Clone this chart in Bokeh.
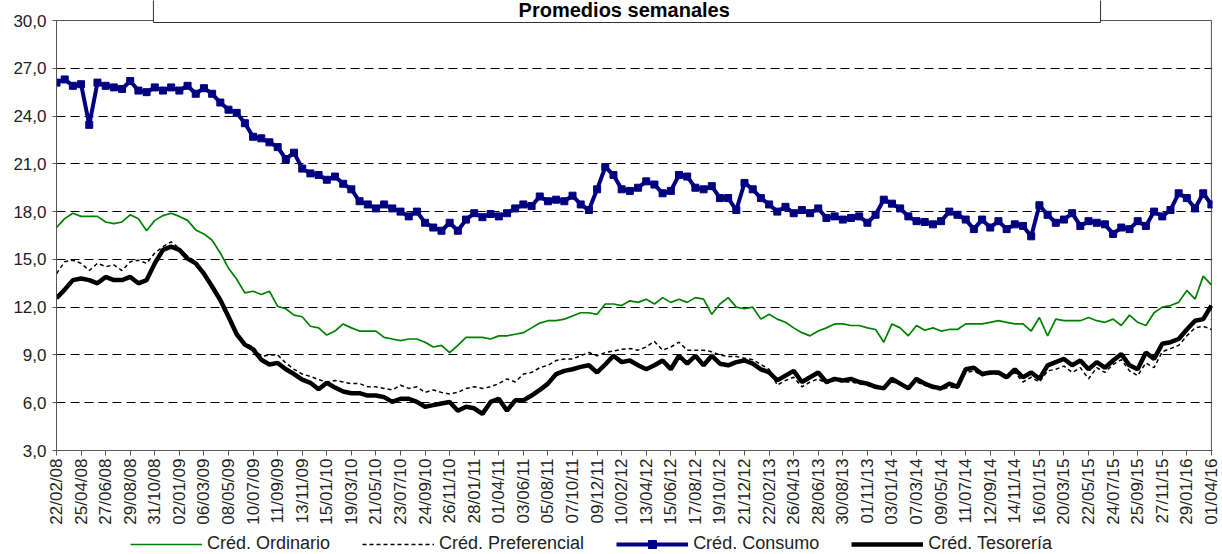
import math
from bokeh.plotting import figure
from bokeh.layouts import column
from bokeh.models import FixedTicker, Range1d, Legend, LegendItem, Label
from bokeh.embed import file_html
from bokeh.resources import INLINE

titulo = "Promedios  semanales"

etiquetas = ["22/02/08", "25/04/08", "27/06/08", "29/08/08", "31/10/08", "02/01/09",
             "06/03/09", "08/05/09", "10/07/09", "11/09/09", "13/11/09", "15/01/10",
             "19/03/10", "21/05/10", "23/07/10", "24/09/10", "26/11/10", "28/01/11",
             "01/04/11", "03/06/11", "05/08/11", "07/10/11", "09/12/11", "10/02/12",
             "13/04/12", "15/06/12", "17/08/12", "19/10/12", "21/12/12", "22/02/13",
             "26/04/13", "28/06/13", "30/08/13", "01/11/13", "03/01/14", "07/03/14",
             "09/05/14", "11/07/14", "12/09/14", "14/11/14", "16/01/15", "20/03/15",
             "22/05/15", "24/07/15", "25/09/15", "27/11/15", "29/01/16", "01/04/16"]
semanas_etiqueta = [9 * i for i in range(len(etiquetas))]

# semana (desde 22/02/08) de cada observación leída
semanas = list(range(0, 424, 3))

consumo = [26.1, 26.3, 25.9, 26.0, 23.45, 26.1, 25.9, 25.8, 25.7, 26.2, 25.6, 25.5,
           25.8, 25.6, 25.8, 25.6, 25.9, 25.4, 25.75, 25.4, 24.85, 24.4, 24.2, 23.55,
           22.7, 22.6, 22.35, 22.05, 21.3, 21.7, 20.7, 20.4, 20.3, 20.0, 20.2, 19.75,
           19.4, 18.65, 18.45, 18.2, 18.45, 18.2, 18.0, 17.7, 18.0, 17.3, 17.0, 16.8,
           17.3, 16.8, 17.5, 17.9, 17.65, 17.85, 17.7, 17.9, 18.2, 18.45, 18.35, 18.95,
           18.65, 18.75, 18.65, 19.0, 18.45, 18.1, 19.4, 20.8, 20.3, 19.4, 19.3, 19.5,
           19.9, 19.7, 19.15, 19.3, 20.3, 20.2, 19.5, 19.4, 19.6, 18.85, 18.85, 18.1,
           19.8, 19.4, 18.85, 18.45, 18.0, 18.3, 17.9, 18.1, 17.9, 18.2, 17.6, 17.7,
           17.5, 17.6, 17.7, 17.3, 17.8, 18.75, 18.5, 18.2, 17.7, 17.4, 17.35, 17.2,
           17.4, 18.0, 17.8, 17.5, 16.9, 17.5, 17.0, 17.4, 16.9, 17.2, 17.1, 16.45,
           18.4, 17.8, 17.3, 17.5, 17.9, 17.1, 17.4, 17.3, 17.2, 16.6, 17.0, 16.9,
           17.4, 17.1, 18.0, 17.7, 18.1, 19.15, 18.85, 18.2, 19.15, 18.45]

ordinario = [17.0, 17.56, 17.9, 17.7, 17.7, 17.7, 17.35, 17.25, 17.35, 17.8, 17.55, 16.8,
             17.45, 17.75, 17.9, 17.7, 17.45, 16.85, 16.6, 16.2, 15.4, 14.45, 13.75, 12.9,
             13.0, 12.8, 13.0, 12.05, 11.9, 11.5, 11.4, 10.8, 10.7, 10.25, 10.5, 10.95,
             10.7, 10.5, 10.5, 10.5, 10.1, 10.0, 9.9, 10.0, 10.0, 9.8, 9.5, 9.6,
             9.15, 9.6, 10.1, 10.1, 10.1, 10.0, 10.2, 10.2, 10.3, 10.4, 10.7, 11.0,
             11.15, 11.15, 11.25, 11.45, 11.65, 11.65, 11.55, 12.2, 12.2, 12.1, 12.4, 12.3,
             12.5, 12.2, 12.6, 12.3, 12.5, 12.3, 12.6, 12.5, 11.55, 12.2, 12.6, 12.0,
             11.9, 12.0, 11.25, 11.55, 11.25, 11.05, 10.7, 10.4, 10.2, 10.5, 10.7, 10.95,
             10.95, 10.85, 10.85, 10.7, 10.6, 9.8, 10.95, 10.7, 10.2, 10.85, 10.55, 10.7,
             10.5, 10.6, 10.6, 10.95, 10.95, 10.95, 11.05, 11.15, 11.05, 10.95, 10.95, 10.5,
             11.35, 10.2, 11.25, 11.15, 11.15, 11.15, 11.35, 11.15, 11.05, 11.25, 10.85, 11.5,
             11.05, 10.85, 11.65, 12.0, 12.1, 12.3, 13.05, 12.5, 13.95, 13.4]

tesoreria = [12.56, 13.1, 13.7, 13.8, 13.7, 13.5, 13.9, 13.7, 13.7, 13.9, 13.5, 13.7,
             14.75, 15.6, 15.8, 15.6, 15.05, 14.75, 14.1, 13.3, 12.45, 11.4, 10.3, 9.65,
             9.35, 8.7, 8.4, 8.5, 8.1, 7.8, 7.45, 7.25, 6.85, 7.25, 6.95, 6.7,
             6.6, 6.6, 6.45, 6.45, 6.35, 6.05, 6.25, 6.25, 6.05, 5.75, 5.85, 5.95,
             6.05, 5.5, 5.75, 5.65, 5.3, 6.05, 6.25, 5.5, 6.15, 6.15, 6.45, 6.8,
             7.2, 7.8, 8.0, 8.1, 8.25, 8.35, 7.9, 8.4, 8.95, 8.55, 8.65, 8.35,
             8.1, 8.35, 8.65, 8.1, 8.95, 8.45, 8.95, 8.35, 8.95, 8.45, 8.35, 8.55,
             8.65, 8.45, 8.1, 7.9, 7.4, 7.7, 8.0, 7.3, 7.6, 7.9, 7.3, 7.5,
             7.4, 7.5, 7.3, 7.2, 7.0, 6.9, 7.5, 7.2, 6.9, 7.5, 7.2, 7.0,
             6.9, 7.2, 7.0, 8.1, 8.2, 7.8, 7.9, 7.9, 7.6, 8.1, 7.6, 7.9,
             7.5, 8.35, 8.55, 8.75, 8.35, 8.65, 8.1, 8.55, 8.2, 8.65, 9.05, 8.35,
             8.1, 9.15, 8.75, 9.7, 9.8, 10.0, 10.6, 11.15, 11.25, 12.1]

preferencial = [14.1, 14.85, 14.95, 14.75, 14.3, 14.75, 14.55, 14.65, 14.3, 14.85, 14.95, 14.75,
                15.4, 15.8, 16.1, 15.7, 15.2, 14.85, 14.2, 13.4, 12.5, 11.5, 10.4, 9.75,
                9.5, 8.9, 9.0, 9.0, 8.5, 8.1, 7.8, 7.65, 7.45, 7.3, 7.4, 7.3,
                7.2, 7.2, 7.0, 7.0, 6.9, 6.8, 7.1, 6.9, 7.0, 6.65, 6.8, 6.65,
                6.55, 6.65, 6.9, 7.0, 6.9, 7.0, 7.2, 7.5, 7.3, 7.8, 7.9, 8.2,
                8.35, 8.65, 8.75, 8.75, 8.95, 9.15, 8.95, 9.15, 9.25, 9.35, 9.4, 9.3,
                9.5, 9.85, 9.3, 9.5, 9.8, 9.3, 9.3, 9.3, 9.2, 9.0, 8.9, 8.9,
                8.8, 8.7, 8.4, 8.1, 7.1, 7.4, 7.6, 7.0, 7.3, 7.5, 7.2, 7.4,
                7.3, 7.3, 7.2, 7.1, 6.9, 6.9, 7.3, 7.2, 7.0, 7.3, 7.1, 6.9,
                6.8, 7.0, 6.9, 7.9, 8.0, 7.7, 7.8, 7.8, 7.5, 7.9, 7.3, 7.6,
                7.3, 8.0, 8.1, 8.3, 7.9, 8.2, 7.5, 8.2, 7.9, 8.4, 8.7, 8.0,
                7.7, 8.5, 8.2, 9.2, 9.4, 9.6, 10.2, 10.7, 10.8, 10.6]

for serie in (consumo, ordinario, tesoreria, preferencial):
    assert len(serie) == len(semanas), len(serie)

series = [("Créd. Ordinario", ordinario), ("Créd. Preferencial", preferencial),
          ("Créd. Consumo", consumo), ("Créd. Tesorería", tesoreria)]

y_ticks = [3, 6, 9, 12, 15, 18, 21, 24, 27, 30]
grid_ticks = y_ticks[1:-1]
y_min, y_max = y_ticks[0], y_ticks[-1]
x_fin = semanas[-1]

FONT = "Liberation Sans"

p = figure(width=1222, height=530, output_backend="svg", toolbar_location=None,
           x_range=Range1d(0, x_fin + 0.4), y_range=Range1d(y_min, 31.256),
           min_border_left=56, min_border_right=10, min_border_top=0, min_border_bottom=80)
p.outline_line_color = None
p.background_fill_color = "white"
p.border_fill_color = "white"

# grid
p.xgrid.visible = False
p.ygrid.ticker = FixedTicker(ticks=grid_ticks)
p.ygrid.grid_line_color = "#000000"
p.ygrid.grid_line_dash = "9 5"
p.ygrid.grid_line_width = 1

# y axis
ax = p.yaxis[0]
ax.ticker = FixedTicker(ticks=y_ticks)
ax.bounds = (y_min, y_max)
ax.major_label_overrides = {t: f"{t:.1f}".replace(".", ",") for t in y_ticks}
ax.major_label_text_font = FONT
ax.major_label_text_font_size = "17px"
ax.major_label_text_color = "#222222"
ax.major_tick_out = 4
ax.major_tick_in = 0
ax.minor_tick_out = 0
ax.minor_tick_in = 0
ax.axis_line_color = "#555555"
ax.major_tick_line_color = "#555555"
ax.major_label_standoff = 6

# x axis
bx = p.xaxis[0]
bx.ticker = FixedTicker(ticks=semanas_etiqueta)
bx.major_label_overrides = dict(zip(semanas_etiqueta, etiquetas))
bx.major_label_orientation = math.pi / 2
bx.major_label_text_font = FONT
bx.major_label_text_font_size = "17px"
bx.major_label_text_color = "#222222"
bx.major_tick_out = 5
bx.major_tick_in = 0
bx.minor_tick_out = 0
bx.minor_tick_in = 0
bx.major_label_standoff = 3
bx.axis_line_color = "#555555"
bx.major_tick_line_color = "#555555"

# frame top / right borders
p.segment(x0=[0], y0=[y_max], x1=[x_fin], y1=[y_max], line_color="#555555", line_width=1)
p.segment(x0=[x_fin], y0=[y_min], x1=[x_fin], y1=[y_max], line_color="#555555", line_width=1)

# series
estilos = {
    "Créd. Ordinario": dict(line_color="#008000", line_width=1.7),
    "Créd. Preferencial": dict(line_color="#000000", line_width=1.5, line_dash="4 3"),
    "Créd. Consumo": dict(line_color="#000080", line_width=4),
    "Créd. Tesorería": dict(line_color="#000000", line_width=4.5),
}
p.line(semanas, ordinario, **estilos["Créd. Ordinario"])
p.line(semanas, tesoreria, **estilos["Créd. Tesorería"])
p.line(semanas, preferencial, **estilos["Créd. Preferencial"])
p.line(semanas, consumo, **estilos["Créd. Consumo"])
p.scatter(semanas, consumo, marker="square", size=7, fill_color="#000080", line_color="#000080")

# title box (its top edge lies above the picture, as in the reference)
caja_izq, caja_der = 35.5, 382.4
caja_base = 29.874
p.quad(left=[caja_izq], right=[caja_der], bottom=[caja_base], top=[33],
       fill_color="white", line_color="#333333", line_width=1)
p.add_layout(Label(x=(caja_izq + caja_der) / 2, y=30.68, text=titulo,
                   text_align="center", text_baseline="alphabetic",
                   text_font=FONT, text_font_size="20px",
                   text_font_style="bold", text_color="#000000"))

# legend strip
lg = figure(width=1222, height=24, output_backend="svg", toolbar_location=None,
            x_range=Range1d(0, 1), y_range=Range1d(0, 1),
            x_axis_location=None, y_axis_location=None,
            min_border_left=56, min_border_right=10, min_border_top=0, min_border_bottom=0)
lg.grid.visible = False
lg.outline_line_color = None
items = []
for nombre, _ in series:
    rs = [lg.line([-5, -4], [-5, -4], **estilos[nombre])]
    if nombre == "Créd. Consumo":
        rs.append(lg.scatter([-5], [-5], marker="square", size=7,
                             fill_color="#000080", line_color="#000080"))
    items.append(LegendItem(label=nombre, renderers=rs))
legend = Legend(items=items, orientation="horizontal", location=(74, 0), margin=0, padding=0,
                spacing=32, glyph_width=72, glyph_height=20, label_height=20, label_standoff=5,
                label_text_font=FONT, label_text_font_size="18px",
                label_text_color="#222222", border_line_color=None, background_fill_alpha=0)
lg.add_layout(legend, "center")

layout = column(p, lg, spacing=0)
open("out.html", "w").write(file_html(layout, INLINE))
